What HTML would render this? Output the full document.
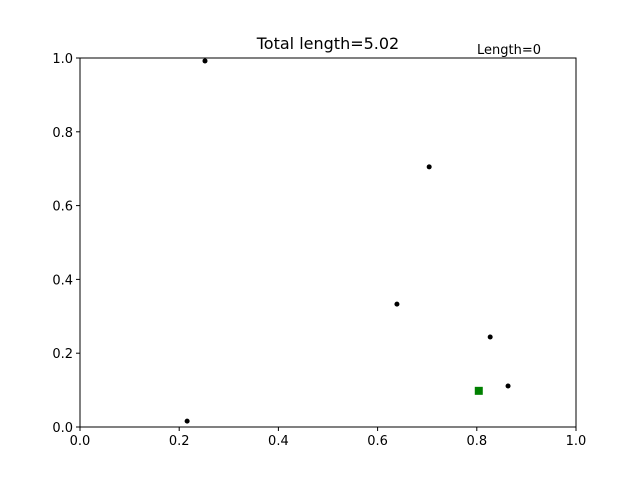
<!DOCTYPE html>
<html><head><meta charset="utf-8"><style>
body{margin:0;background:#fff}
svg text{font-family:"DejaVu Sans","Liberation Sans",sans-serif}
</style></head><body>
<svg id="chart" width="640" height="480" xmlns="http://www.w3.org/2000/svg">
<rect width="640" height="480" fill="#fff"/>
<text x="328" y="49" font-size="16" text-anchor="middle">Total length=5.02</text>
<text x="477" y="54" font-size="13">Length=0</text>
<g id="ticks"></g>
<g id="marks"></g>
<rect x="80" y="58" width="496" height="369" fill="none" stroke="#000" stroke-width="1"/>
</svg>
<script>
const pointsX=[0.252,0.704,0.639,0.827,0.863,0.216];
const pointsY=[0.992,0.705,0.333,0.244,0.111,0.016];
const startX=[0.804];
const startY=[0.098];
const xTicks=["0.0","0.2","0.4","0.6","0.8","1.0"];
const yTicks=["0.0","0.2","0.4","0.6","0.8","1.0"];
const X0=80,X1=576,Y0=427,Y1=58;
const sx=v=>X0+v*(X1-X0), sy=v=>Y0-v*(Y0-Y1);
const NS="http://www.w3.org/2000/svg";
const tg=document.getElementById('ticks'), mg=document.getElementById('marks');
function mk(t,a,p){const e=document.createElementNS(NS,t);for(const k in a)e.setAttribute(k,a[k]);p.appendChild(e);return e;}
xTicks.forEach((l,i)=>{const v=parseFloat(l),x=sx(v);
 const t=mk('line',{x1:x,x2:x,y1:Y0,y2:Y0+4,stroke:'#000'},tg);
 
 
 const s=mk('text',{x:x,y:Y0+18,'font-size':13,'text-anchor':'middle'},tg);s.textContent=l;
 
 });
yTicks.forEach((l,i)=>{const v=parseFloat(l),y=sy(v);
 const t=mk('line',{x1:X0-4,x2:X0,y1:y,y2:y,stroke:'#000'},tg);
 
 
 const s=mk('text',{x:X0-7,y:y+5,'font-size':13,'text-anchor':'end'},tg);s.textContent=l;
 
 });
pointsX.forEach((v,i)=>{const c=mk('circle',{cx:sx(v),cy:sy(pointsY[i]),r:2.5,fill:'#000'},mg);
 
 });
startX.forEach((v,i)=>{const r=mk('rect',{x:sx(v)-4,y:sy(startY[i])-4,width:8,height:8,fill:'#008000'},mg);
 
 });
</script>
</body></html>
